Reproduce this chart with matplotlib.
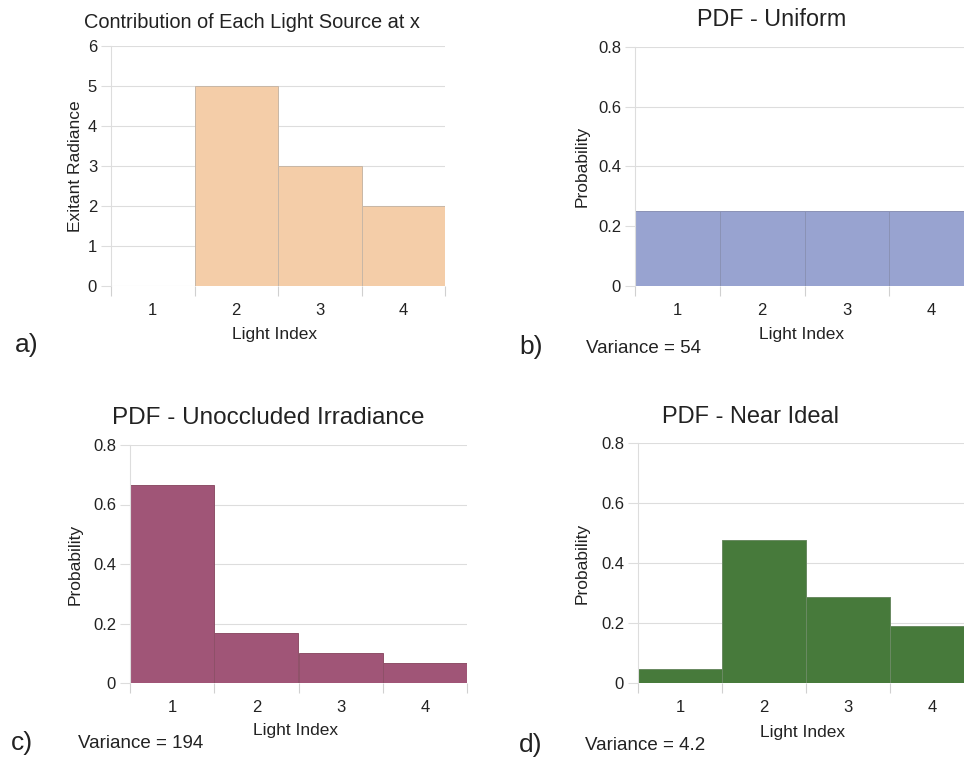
import matplotlib.pyplot as plt

plt.rcParams['font.family'] = ['Liberation Sans', 'DejaVu Sans']

# datos de cada panel
luces = [1, 2, 3, 4]
radiancia = [0, 5, 3, 2]
pdf_uniforme = [0.25, 0.25, 0.25, 0.25]
pdf_irradiancia = [0.667, 0.167, 0.1, 0.067]
pdf_ideal = [0.048, 0.476, 0.286, 0.19]
varianzas = ['54', '194', '4.2']

W, H = 964, 762
fig = plt.figure(figsize=(W / 100, H / 100), dpi=100)


def px(x, y):
    # pixeles de la imagen -> fraccion de la figura
    return x / W, 1 - y / H


def panel(izq, arriba, der, abajo, valores, color, borde, ymax, yticks, ylabels,
          titulo, tam_titulo, x_titulo, y_titulo, ylabel, x_ylabel, y_xlabel):
    x0, y0 = px(izq, abajo)
    x1, y1 = px(der, arriba)
    ax = fig.add_axes([x0, y0, x1 - x0, y1 - y0])
    ax.bar(luces, valores, width=1.0, color=color, edgecolor=borde, linewidth=0.7, zorder=2)
    ax.set_xlim(0.5, 4.5)
    ax.set_ylim(0, ymax)
    ax.set_yticks(yticks)
    ax.set_yticklabels(ylabels)
    ax.set_xticks(luces)
    ax.set_xticks([0.5, 1.5, 2.5, 3.5, 4.5], minor=True)
    ax.tick_params(axis='x', which='major', length=0, pad=12, labelsize=12, labelcolor='#222222')
    ax.tick_params(axis='x', which='minor', length=7, color='#d0d0d0', width=0.8)
    ax.tick_params(axis='y', length=7, color='#dddddd', width=0.8, pad=3, labelsize=12,
                   labelcolor='#222222')
    ax.grid(axis='y', color='#dddddd', linewidth=0.8, zorder=0)
    for s in ['top', 'right', 'bottom']:
        ax.spines[s].set_visible(False)
    ax.spines['left'].set_color('#dddddd')
    ax.spines['left'].set_linewidth(0.8)
    ax.spines['left'].set_bounds(0, ymax)

    tx, ty = px(x_titulo, y_titulo)
    fig.text(tx, ty, titulo, fontsize=tam_titulo, color='#222222', ha='center', va='center')
    lx, ly = px(x_ylabel, (arriba + abajo) / 2)
    fig.text(lx, ly, ylabel, fontsize=12.5, color='#222222', rotation=90, ha='center', va='center')
    xx, xy = px((izq + der) / 2 - 3, y_xlabel)
    fig.text(xx, xy, 'Light Index', fontsize=12.5, color='#222222', ha='center', va='center')
    return ax


prob_ticks = [0, 0.2, 0.4, 0.6, 0.8]
prob_labels = ['0', '0.2', '0.4', '0.6', '0.8']

panel(111, 46, 445, 286, radiancia, '#f4cda8', '#c8b7a6', 6, range(7),
      [str(i) for i in range(7)], 'Contribution of Each Light Source at x', 14.4,
      252, 22, 'Exitant Radiance', 75, 334)
panel(635, 47, 974, 286, pdf_uniforme, '#98a3d0', '#8a92b5', 0.8, prob_ticks, prob_labels,
      'PDF - Uniform', 16.8, 772, 19, 'Probability', 582, 335)
panel(130, 445, 467, 683, pdf_irradiancia, '#a05577', '#8e5068', 0.8, prob_ticks, prob_labels,
      'PDF - Unoccluded Irradiance', 17.5, 268, 418, 'Probability', 75, 731)
panel(638, 443, 974, 683, pdf_ideal, '#477a3b', '#6a8a62', 0.8, prob_ticks, prob_labels,
      'PDF - Near Ideal', 17, 750, 417, 'Probability', 582, 733)

# letras de los paneles y varianzas
for letra, (x, y) in zip(['a)', 'b)', 'c)', 'd)'],
                         [(27, 345), (531, 347), (22, 743), (531, 745)]):
    fx, fy = px(x, y)
    fig.text(fx, fy, letra, fontsize=19, color='#222222', ha='center', va='center')

for v, (x, y) in zip(varianzas, [(586, 348), (78, 744), (585, 746)]):
    fx, fy = px(x, y)
    fig.text(fx, fy, 'Variance = ' + v, fontsize=13.5, color='#222222', ha='left', va='center')

plt.savefig('out.png', dpi=100)
